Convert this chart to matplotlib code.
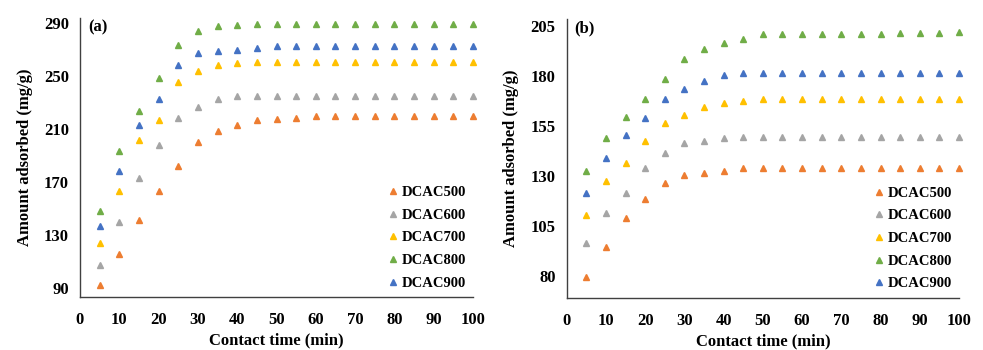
import matplotlib
matplotlib.use("Agg")
import matplotlib.pyplot as plt

time = [5, 10, 15, 20, 25, 30, 35, 40, 45, 50, 55, 60, 65, 70, 75, 80, 85, 90, 95, 100]
series_names = ["DCAC500", "DCAC600", "DCAC700", "DCAC800", "DCAC900"]
colors = ["#ED7D31", "#A5A5A5", "#FFC000", "#70AD47", "#4472C4"]

# Panel (a)
a_500 = [92.3, 115.5, 141.7, 163.2, 182.3, 200.5, 208.6, 213.1, 216.6, 217.6, 218.1, 219.6, 219.6, 219.6, 219.6, 219.6, 219.6, 219.6, 219.6, 219.6]
a_600 = [107.2, 140.0, 173.5, 198.2, 218.1, 226.5, 233.0, 235.0, 235.0, 235.0, 235.0, 235.0, 235.0, 235.0, 235.0, 235.0, 235.0, 235.0, 235.0, 235.0]
a_700 = [123.8, 163.2, 201.8, 216.9, 245.9, 253.9, 258.5, 260.0, 260.8, 260.8, 260.8, 260.8, 260.8, 260.8, 260.8, 260.8, 260.8, 260.8, 260.8, 260.8]
a_800 = [148.3, 193.4, 223.7, 248.4, 273.9, 284.2, 288.2, 289.0, 289.5, 289.5, 289.5, 289.5, 289.5, 289.5, 289.5, 289.5, 289.5, 289.5, 289.5, 289.5]
a_900 = [136.7, 178.3, 213.1, 233.0, 258.5, 267.6, 269.1, 269.8, 271.6, 272.9, 272.9, 272.9, 272.9, 272.9, 272.9, 272.9, 272.9, 272.9, 272.9, 272.9]

# Panel (b)
b_500 = [79.7, 94.7, 108.8, 118.5, 126.5, 130.7, 131.5, 132.5, 133.8, 133.8, 133.8, 133.8, 133.8, 133.8, 133.8, 133.8, 133.8, 133.8, 133.8, 133.8]
b_600 = [96.5, 111.3, 121.3, 133.8, 141.5, 146.5, 147.5, 149.0, 149.7, 149.7, 149.7, 149.7, 149.7, 149.7, 149.7, 149.7, 149.7, 149.7, 149.7, 149.7]
b_700 = [110.5, 127.5, 136.5, 147.5, 156.3, 160.5, 164.7, 166.3, 167.5, 168.3, 168.3, 168.3, 168.3, 168.3, 168.3, 168.3, 168.3, 168.3, 168.3, 168.3]
b_800 = [132.5, 149.0, 159.7, 168.3, 178.3, 188.3, 193.3, 196.7, 198.3, 200.8, 200.8, 200.8, 200.8, 200.8, 200.8, 200.8, 201.5, 201.5, 201.5, 202.0]
b_900 = [121.3, 138.8, 150.7, 158.8, 168.3, 173.3, 177.5, 180.5, 181.5, 181.5, 181.5, 181.5, 181.5, 181.5, 181.5, 181.5, 181.5, 181.5, 181.5, 181.5]

a_yticks = [90, 130, 170, 210, 250, 290]
b_yticks = [80, 105, 130, 155, 180, 205]
xticks = [0, 10, 20, 30, 40, 50, 60, 70, 80, 90, 100]

plt.rcParams['font.family'] = ['Liberation Serif', 'DejaVu Serif']
plt.rcParams['font.weight'] = 'bold'

fig = plt.figure(figsize=(9.83, 3.5), dpi=100)
ax_a = fig.add_axes([80/983, 1-297/350, 393/983, (297-18.3)/350])
ax_b = fig.add_axes([566.7/983, 1-297.7/350, (959-566.7)/983, (297.7-19.3)/350])

def draw(ax, data, yticks, ylim, label):
    for name, vals, c in zip(series_names, data, colors):
        ax.plot(time, vals, linestyle='none', marker='^', markersize=5,
                color=c, label=name, clip_on=False)
    ax.set_xlim(0, 100)
    ax.set_ylim(*ylim)
    ax.set_xticks(xticks)
    ax.set_yticks(yticks)
    for s in ['top', 'right']:
        ax.spines[s].set_visible(False)
    for s in ['left', 'bottom']:
        ax.spines[s].set_color('#404040')
        ax.spines[s].set_linewidth(1.0)
    ax.tick_params(axis='y', length=0, labelsize=12, pad=8)
    ax.tick_params(axis='x', length=0, labelsize=12, pad=11)
    for t in ax.get_xticklabels() + ax.get_yticklabels():
        t.set_fontweight('bold')
    ax.set_xlabel('Contact time (min)', fontsize=12, fontweight='bold', labelpad=3)
    ax.set_ylabel('Amount adsorbed (mg/g)', fontsize=12, fontweight='bold', labelpad=8)
    ax.text(0.02, 0.995, label, transform=ax.transAxes, fontsize=12,
            fontweight='bold', va='top', ha='left')
    leg = ax.legend(loc='lower right', bbox_to_anchor=(1.0, 0.0), frameon=False,
                    fontsize=10.5, handletextpad=0.15, labelspacing=0.65,
                    handlelength=0.8, borderaxespad=0.1)
    for t in leg.get_texts():
        t.set_fontweight('bold')

draw(ax_a, [a_500, a_600, a_700, a_800, a_900], a_yticks, (83.2, 293.8), '(a)')
draw(ax_b, [b_500, b_600, b_700, b_800, b_900], b_yticks, (69.2, 208.3), '(b)')

fig.savefig('out.png', dpi=100)
